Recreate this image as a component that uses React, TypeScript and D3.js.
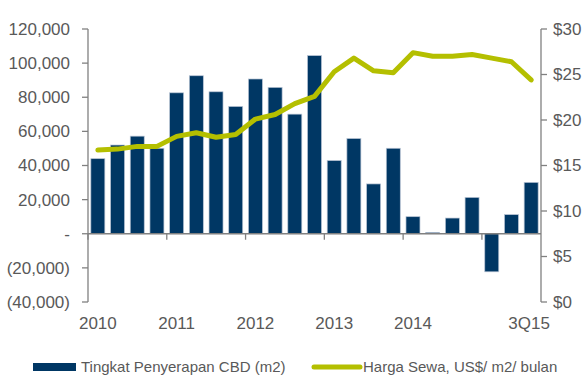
import React from "react";
import * as d3 from "d3";

const quarters = [
  "1Q10","2Q10","3Q10","4Q10","1Q11","2Q11","3Q11","4Q11","1Q12","2Q12","3Q12","4Q12",
  "1Q13","2Q13","3Q13","4Q13","1Q14","2Q14","3Q14","4Q14","1Q15","2Q15","3Q15",
];
const absorption = [
  44000, 52000, 57200, 50100, 82600, 92600, 83200, 74600, 90700, 85800, 70100, 104400,
  42900, 55800, 29200, 50100, 10000, 800, 9200, 21300, -22300, 11200, 30100,
];
const rent = [
  16.7, 16.8, 17.1, 17.1, 18.2, 18.6, 18.1, 18.4, 20.1, 20.6, 21.8, 22.6,
  25.3, 26.8, 25.4, 25.2, 27.4, 27.0, 27.0, 27.2, 26.8, 26.4, 24.4,
];
const xLabels: [string, string][] = [
  ["1Q10", "2010"], ["1Q11", "2011"], ["1Q12", "2012"], ["1Q13", "2013"], ["1Q14", "2014"], ["3Q15", "3Q15"],
];
const leftTicks = [-40000, -20000, 0, 20000, 40000, 60000, 80000, 100000, 120000];
const rightTicks = [0, 5, 10, 15, 20, 25, 30];
const legendBar = "Tingkat Penyerapan CBD (m2)";
const legendLine = "Harga Sewa, US$/ m2/ bulan";

const W = 587, H = 376;
const left = 88, right = 541, top = 29, bottom = 302;
const axisColor = "#808080";
const textColor = "#595959";
const barColor = "#003764";
const lineColor = "#b4bf00";
const font = "'Liberation Sans', Arial, sans-serif";

function fmtLeft(v: number) {
  if (v === 0) return "-";
  const s = d3.format(",")(Math.abs(v));
  return v < 0 ? `(${s})` : s;
}

export default function App() {
  const x = d3.scaleBand<string>().domain(quarters).range([left, right]).paddingInner(0.29).paddingOuter(0.145);
  const yL = d3.scaleLinear().domain([-40000, 120000]).range([bottom, top]);
  const yR = d3.scaleLinear().domain([0, 30]).range([bottom, top]);
  const step = x.step();
  const zero = yL(0);
  const line = d3
    .line<number>()
    .x((_, i) => (x(quarters[i]) as number) + x.bandwidth() / 2)
    .y((d) => yR(d));
  const yearTicks = d3.range(0, 6).map((i) => left + i * 4 * step);

  return (
    <svg width={W} height={H} style={{ position: "absolute", left: 0, top: 0 }} fontFamily={font}>
      <rect width={W} height={H} fill="#fff" />
      {quarters.map((q, i) => {
        const v = absorption[i];
        const y0 = yL(Math.max(0, v));
        const y1 = yL(Math.min(0, v));
        return (
          <rect key={q} x={x(q)} y={y0} width={x.bandwidth()} height={y1 - y0}
            fill={barColor} stroke="#b8c4d4" strokeWidth={0.7} />
        );
      })}
      {/* left axis */}
      <line x1={left} x2={left} y1={top} y2={bottom} stroke={axisColor} strokeWidth={1.3} />
      {leftTicks.map((t) => (
        <g key={t}>
          <line x1={left - 6} x2={left} y1={yL(t)} y2={yL(t)} stroke={axisColor} strokeWidth={1.3} />
          <text x={70} y={yL(t)} dy="0.35em" textAnchor="end" fontSize={17} fill={textColor}>{fmtLeft(t)}</text>
        </g>
      ))}
      {/* right axis */}
      <line x1={right} x2={right} y1={top} y2={bottom} stroke={axisColor} strokeWidth={1.3} />
      {rightTicks.map((t) => (
        <g key={t}>
          <line x1={right} x2={right + 6} y1={yR(t)} y2={yR(t)} stroke={axisColor} strokeWidth={1.3} />
          <text x={553} y={yR(t)} dy="0.35em" textAnchor="start" fontSize={17} fill={textColor}>${t}</text>
        </g>
      ))}
      {/* x axis */}
      <line x1={left} x2={right} y1={zero} y2={zero} stroke={axisColor} strokeWidth={1.3} />
      {yearTicks.map((t, i) => (
        <line key={i} x1={t} x2={t} y1={zero} y2={zero + 6} stroke={axisColor} strokeWidth={1.3} />
      ))}
      {xLabels.map(([q, lab]) => (
        <text key={lab} x={(x(q) as number) + x.bandwidth() / 2 - (lab === "3Q15" ? 2 : 0)} y={329} textAnchor="middle" fontSize={17} fill={textColor}>{lab}</text>
      ))}
      <path d={line(rent) || ""} fill="none" stroke={lineColor} strokeWidth={5} strokeLinejoin="round" strokeLinecap="round" />
      {/* legend */}
      <rect x={33} y={363} width={43} height={8} fill={barColor} />
      <text x={81} y={367} dy="0.35em" fontSize={15} fill={textColor}>{legendBar}</text>
      <line x1={314} x2={360} y1={367} y2={367} stroke={lineColor} strokeWidth={5} strokeLinecap="round" />
      <text x={363} y={367} dy="0.35em" fontSize={15} fill={textColor}>{legendLine}</text>
    </svg>
  );
}
